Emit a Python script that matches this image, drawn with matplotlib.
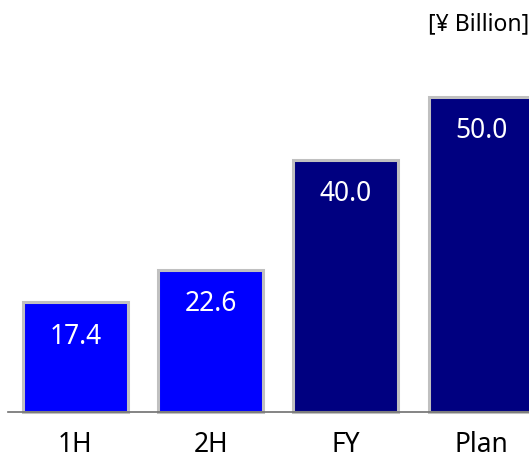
import matplotlib
matplotlib.use("Agg")
import matplotlib.pyplot as plt

# Operating income by period
periods = ["1H", "2H", "FY", "Plan"]
values = [17.4, 22.6, 40.0, 50.0]
bar_colors = ["#0000FF", "#0000FF", "#000080", "#000080"]
unit_label = "[¥ Billion]"

plt.rcParams["font.family"] = ["Noto Sans", "DejaVu Sans"]

fig = plt.figure(figsize=(5.29, 4.60), dpi=100)
ax = fig.add_axes([0, 0, 1, 1])

x = range(len(periods))
bars = ax.bar(x, values, width=0.777, color=bar_colors,
              edgecolor="#C0C0C0", linewidth=2.2, zorder=2)

for b, v in zip(bars, values):
    ax.text(b.get_x() + b.get_width() / 2, v - 5.3, f"{v:.1f}",
            ha="center", va="center", color="white", fontsize=19)

ax.set_xlim(-0.558, 3.354)
ax.set_ylim(-7.46, 65.56)

# only the baseline is shown
for s in ["top", "right", "left"]:
    ax.spines[s].set_visible(False)
ax.spines["bottom"].set_position(("data", 0))
ax.spines["bottom"].set_bounds(-0.5, 3.6)
ax.spines["bottom"].set_color("#707070")
ax.spines["bottom"].set_linewidth(1.2)
ax.spines["bottom"].set_zorder(3)

ax.set_yticks([])
ax.set_xticks(list(x))
ax.set_xticklabels(periods, fontsize=19)
ax.tick_params(axis="x", length=0, pad=13)

fig.text(1.0, 0.948, unit_label, ha="right", va="center", fontsize=16.5)

fig.savefig("out.png", dpi=100)
